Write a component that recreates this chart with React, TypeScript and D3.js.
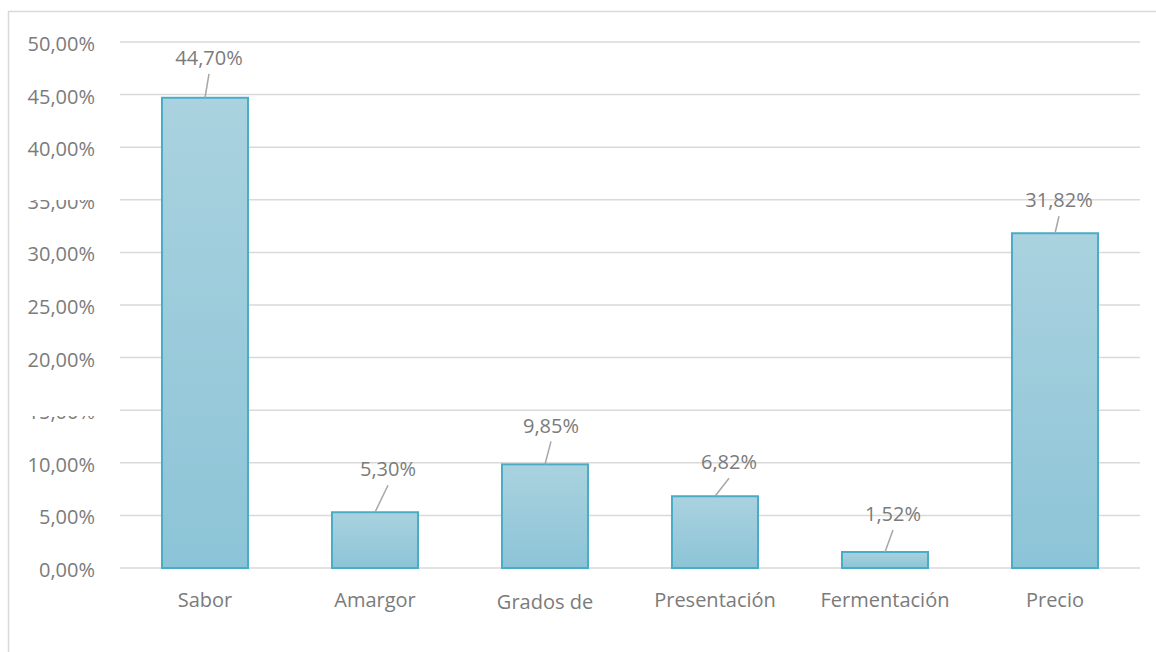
import React from 'react';
import * as d3 from 'd3';

const categories = ['Sabor', 'Amargor', 'Grados de', 'Presentación', 'Fermentación', 'Precio'];
const values = [44.7, 5.3, 9.85, 6.82, 1.52, 31.82];
const valueLabels = ['44,70%', '5,30%', '9,85%', '6,82%', '1,52%', '31,82%'];
const yTicks = [0, 5, 10, 15, 20, 25, 30, 35, 40, 45, 50];

// label nudges (dx, dy from bar top) as placed in the original
const labelOffsets = [[4, -40], [13, -43], [6, -39], [14, -34], [8, -38], [4, -33]];

const W = 1156;
const H = 652;
const left = 120;
const right = 1140;
const top = 42;
const bottom = 568;
const textColor = '#7b7b7b';
const font = '"Open Sans", Lato, sans-serif';

const fmtTick = (v: number) => v.toFixed(2).replace('.', ',') + '%';

export default function App() {
  const x = d3.scaleBand<string>().domain(categories).range([left, right]).paddingInner(0.494).paddingOuter(0.247);
  const y = d3.scaleLinear().domain([0, 50]).range([bottom, top]);

  return (
    <svg width={W} height={H} style={{ position: 'absolute', left: 0, top: 0 }}>
      <defs>
        <linearGradient id="barFill" x1="0" y1="0" x2="0" y2="1">
          <stop offset="0" stopColor="#aad2df" />
          <stop offset="1" stopColor="#8cc4d7" />
        </linearGradient>
        <clipPath id="clip35">
          <rect x={0} y={200} width={110} height={20} />
        </clipPath>
        <clipPath id="clip15">
          <rect x={0} y={416} width={110} height={20} />
        </clipPath>
      </defs>
      <rect x={0} y={0} width={W} height={H} fill="#fff" />
      <rect x={8.5} y={11.5} width={W + 20} height={H + 20} fill="none" stroke="#d9d9d9" strokeWidth={1.5} />

      {yTicks.map((t) => (
        <g key={t}>
          <line x1={left} x2={right} y1={y(t)} y2={y(t)} stroke="#d9d9d9" strokeWidth={1.5} />
          <text
            x={95}
            y={y(t)}
            dy="0.45em"
            textAnchor="end"
            fontFamily={font}
            fontSize={20}
            fill={textColor}
            clipPath={t === 35 ? 'url(#clip35)' : t === 15 ? 'url(#clip15)' : undefined}
          >
            {fmtTick(t)}
          </text>
        </g>
      ))}

      {categories.map((c, i) => {
        const bx = x(c) as number;
        const cx = bx + x.bandwidth() / 2;
        const by = y(values[i]);
        const [dx, dy] = labelOffsets[i];
        const lx = cx + dx;
        const ly = by + dy;
        return (
          <g key={c}>
            <rect
              x={bx}
              y={by}
              width={x.bandwidth()}
              height={y(0) - by}
              fill="url(#barFill)"
              stroke="#4bacc6"
              strokeWidth={2}
            />
            <line x1={cx} y1={by} x2={lx} y2={ly + 16} stroke="#a6a6a6" strokeWidth={1.5} />
            <text x={lx} y={ly} dy="0.36em" textAnchor="middle" fontFamily={font} fontSize={20} fill={textColor}>
              {valueLabels[i]}
            </text>
            <text
              x={cx}
              y={c === 'Grados de' ? 601.5 : 600}
              dy="0.36em"
              textAnchor="middle"
              fontFamily={font}
              fontSize={20}
              fill={textColor}
            >
              {c}
            </text>
          </g>
        );
      })}
    </svg>
  );
}
